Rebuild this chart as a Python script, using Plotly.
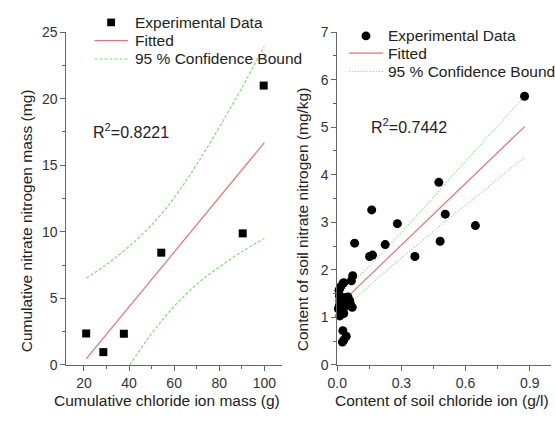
import plotly.graph_objects as go

# ---------------- data: left panel ----------------
cl_mass = [21.0, 28.6, 37.7, 54.3, 90.4, 99.7]
no3_mass = [2.36, 0.96, 2.34, 8.43, 9.88, 20.98]
fit_left_x = [21, 100]
fit_left_y = [0.45, 16.7]
bound_left_x = [21, 30, 40, 50, 60, 70, 80, 90, 100]
upper_left_y = [6.5, 7.55, 8.9, 10.5, 12.55, 15.05, 17.85, 20.8, 23.95]
lower_left_x = [40.3, 50, 60, 70, 80, 90, 100]
lower_left_y = [0.0, 2.35, 4.4, 6.05, 7.35, 8.5, 9.5]

# ---------------- data: right panel ----------------
soil_cl = [0.876, 0.475, 0.161, 0.281, 0.505, 0.646, 0.081, 0.224, 0.151, 0.165,
           0.363, 0.481,
           0.072, 0.066, 0.026, 0.015, 0.008, 0.030,
           0.010, 0.020, 0.030, 0.040, 0.050, 0.058, 0.015, 0.028, 0.045, 0.010,
           0.035, 0.062, 0.070, 0.012, 0.022, 0.030, 0.012, 0.005,
           0.026, 0.042, 0.030, 0.024]
soil_no3 = [5.65, 3.84, 3.26, 2.97, 3.17, 2.93, 2.56, 2.53, 2.28, 2.31,
            2.28, 2.60,
            1.875, 1.77, 1.71, 1.64, 1.57, 1.73,
            1.45, 1.40, 1.42, 1.38, 1.43, 1.35, 1.32, 1.30, 1.28, 1.25,
            1.22, 1.27, 1.21, 1.35, 1.10, 1.08, 1.03, 1.18,
            0.72, 0.60, 0.52, 0.48]
fit_right_x = [0.015, 0.876]
fit_right_y = [1.29, 5.01]
bound_right_x = [0.015, 0.1, 0.2, 0.3, 0.4, 0.5, 0.6, 0.7, 0.8, 0.876]
upper_right_y = [1.51, 1.86, 2.31, 2.79, 3.28, 3.78, 4.28, 4.78, 5.27, 5.65]
lower_right_y = [1.07, 1.46, 1.87, 2.25, 2.62, 3.00, 3.36, 3.72, 4.09, 4.37]

FONT = "Liberation Sans, Arial, sans-serif"
RED = "#e57373"
GREEN = "#7fdc74"
W, H = 555, 421


def px(x):
    return x / W


def py(y):
    return 1 - y / H


fig = go.Figure()

# left panel traces
fig.add_trace(go.Scatter(x=fit_left_x, y=fit_left_y, mode="lines",
                         line=dict(color=RED, width=1.2), xaxis="x", yaxis="y"))
fig.add_trace(go.Scatter(x=bound_left_x, y=upper_left_y, mode="lines", line_shape="spline",
                         line=dict(color=GREEN, width=1.2, dash="3px,2px"), xaxis="x", yaxis="y"))
fig.add_trace(go.Scatter(x=lower_left_x, y=lower_left_y, mode="lines", line_shape="spline",
                         line=dict(color=GREEN, width=1.2, dash="3px,2px"), xaxis="x", yaxis="y"))
fig.add_trace(go.Scatter(x=cl_mass, y=no3_mass, mode="markers", cliponaxis=False,
                         marker=dict(symbol="square", size=8, color="black"), xaxis="x", yaxis="y"))

# right panel traces
fig.add_trace(go.Scatter(x=fit_right_x, y=fit_right_y, mode="lines",
                         line=dict(color=RED, width=1.2), xaxis="x2", yaxis="y2"))
fig.add_trace(go.Scatter(x=bound_right_x, y=upper_right_y, mode="lines", line_shape="spline",
                         line=dict(color=GREEN, width=1.2, dash="1px,2px"), xaxis="x2", yaxis="y2"))
fig.add_trace(go.Scatter(x=bound_right_x, y=lower_right_y, mode="lines", line_shape="spline",
                         line=dict(color=GREEN, width=1.2, dash="1px,2px"), xaxis="x2", yaxis="y2"))
fig.add_trace(go.Scatter(x=soil_cl, y=soil_no3, mode="markers", cliponaxis=False,
                         marker=dict(symbol="circle", size=9, color="black"), xaxis="x2", yaxis="y2"))

axis_common = dict(showline=True, linecolor="#666", linewidth=1, ticks="outside",
                   ticklen=5, tickcolor="#666", showgrid=False, zeroline=False,
                   tickfont=dict(family=FONT, size=14, color="#333"))

fig.update_layout(
    width=W, height=H,
    margin=dict(l=0, r=0, t=0, b=0),
    paper_bgcolor="white", plot_bgcolor="white",
    showlegend=False,
    xaxis=dict(domain=[px(57.5), px(276.7)], range=[12.25, 107.7], anchor="y",
               tick0=0, dtick=20,
               minor=dict(ticks="outside", ticklen=3, dtick=10, tickcolor="#666"),
               **axis_common),
    yaxis=dict(domain=[py(371), py(25)], range=[0, 25], anchor="x",
               tick0=0, dtick=5,
               minor=dict(ticks="outside", ticklen=3, dtick=2.5, tickcolor="#666"),
               **axis_common),
    xaxis2=dict(domain=[px(333.3), px(551)], range=[0, 1.0], anchor="y2",
                tick0=0, dtick=0.3, tickformat=".1f",
                minor=dict(ticks="outside", ticklen=3, dtick=0.15, tickcolor="#666"),
                **axis_common),
    yaxis2=dict(domain=[py(371), py(25)], range=[0, 7], anchor="x2",
                tick0=0, dtick=1,
                minor=dict(ticks="outside", ticklen=3, dtick=0.5, tickcolor="#666"),
                **axis_common),
)

annotations = []
shapes = []


def text(x, y, s, size=16, angle=0, xanchor="left"):
    annotations.append(dict(x=px(x), y=py(y), xref="paper", yref="paper", text=s,
                            showarrow=False, xanchor=xanchor, yanchor="middle",
                            textangle=angle,
                            font=dict(family=FONT, size=size, color="#222")))


# axis titles
text(160, 408, "Cumulative chloride ion mass (g)", size=15.5, xanchor="center")
text(17, 221, "Cumulative nitrate nitrogen mass (mg)", size=15.5, angle=-90, xanchor="center")
text(440, 408, "Content of soil chloride ion (g/l)", size=15.5, xanchor="center")
text(298, 220, "Content of soil nitrate nitrogen (mg/kg)", size=15.5, angle=-90, xanchor="center")

# R^2
text(82, 128, "R<sup>2</sup>=0.8221", size=16)
text(366, 123, "R<sup>2</sup>=0.7442", size=16)


# legends (manual)
def legend(x0, x1, xt, ys, marker):
    cx = (x0 + x1) / 2
    if marker == "square":
        shapes.append(dict(type="rect", xref="paper", yref="paper",
                           x0=px(cx - 4), x1=px(cx + 4), y0=py(ys[0] + 4), y1=py(ys[0] - 4),
                           fillcolor="black", line=dict(width=0)))
        dash = "3px,2px"
    else:
        shapes.append(dict(type="circle", xref="paper", yref="paper",
                           x0=px(cx - 4.5), x1=px(cx + 4.5), y0=py(ys[0] + 4.5), y1=py(ys[0] - 4.5),
                           fillcolor="black", line=dict(width=0)))
        dash = "1px,2px"
    shapes.append(dict(type="line", xref="paper", yref="paper",
                       x0=px(x0), x1=px(x1), y0=py(ys[1]), y1=py(ys[1]),
                       line=dict(color=RED, width=1.2)))
    shapes.append(dict(type="line", xref="paper", yref="paper",
                       x0=px(x0), x1=px(x1), y0=py(ys[2]), y1=py(ys[2]),
                       line=dict(color=GREEN, width=1.2, dash=dash)))
    text(xt, ys[0], "Experimental Data", size=15.5)
    text(xt, ys[1], "Fitted", size=15.5)
    text(xt, ys[2], "95 % Confidence Bound", size=15.5)


legend(86, 120, 125, [15, 34, 53], "square")
legend(345, 380, 383, [29, 47, 66], "circle")

fig.update_layout(annotations=annotations, shapes=shapes)

fig.write_html("out.html")
